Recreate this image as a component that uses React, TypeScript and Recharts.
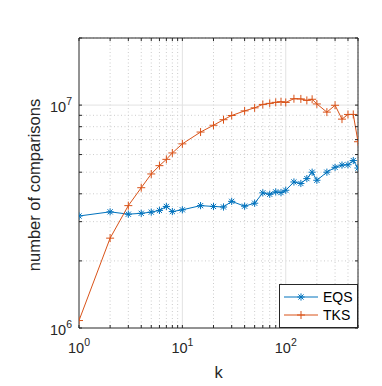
import { CartesianGrid, Legend, Line, LineChart, ReferenceArea, XAxis, YAxis } from 'recharts';

// k values (x axis, log scale)
const kValues = [
  1, 2, 3, 4, 5, 6, 7, 8, 10, 15, 20, 25, 30, 40, 50, 60, 70, 80, 90, 100, 120, 140, 160, 180, 200, 250, 300, 350,
  400, 450, 500,
];

// number of comparisons per method
const eqsValues = [
  3.18e6, 3.32e6, 3.24e6, 3.27e6, 3.31e6, 3.37e6, 3.51e6, 3.33e6, 3.39e6, 3.54e6, 3.51e6, 3.49e6, 3.7e6, 3.52e6,
  3.63e6, 4.04e6, 3.98e6, 4.08e6, 4.05e6, 4.15e6, 4.52e6, 4.45e6, 4.68e6, 5.0e6, 4.6e6, 5.0e6, 5.26e6, 5.38e6,
  5.4e6, 5.64e6, 5.22e6,
];
const tksValues = [
  1.08e6, 2.53e6, 3.54e6, 4.26e6, 4.91e6, 5.35e6, 5.71e6, 6.1e6, 6.7e6, 7.57e6, 8.12e6, 8.6e6, 8.98e6, 9.42e6,
  9.72e6, 1.007e7, 1.018e7, 1.029e7, 1.035e7, 1.028e7, 1.068e7, 1.066e7, 1.05e7, 1.062e7, 1.012e7, 9.3e6, 9.98e6,
  8.65e6, 9.08e6, 9.08e6, 6.85e6,
];

const seriesNames = ['EQS', 'TKS'];

const xDomain = [1, 500];
const yDomain = [1e6, 2e7];
const xMajor = [1, 10, 100];
const xMinor = [2, 3, 4, 5, 6, 7, 8, 9, 20, 30, 40, 50, 60, 70, 80, 90, 200, 300, 400, 500];
const yMajor = [1e6, 1e7];
const yMinor = [2e6, 3e6, 4e6, 5e6, 6e6, 7e6, 8e6, 9e6, 2e7];

const rows = kValues.map((k, i) => ({ k, eqs: eqsValues[i], tks: tksValues[i] }));

const W = 382;
const H = 386;
const PL = 79;
const PR = 358;
const PT = 38;
const PB = 328;
const FONT = '"Liberation Sans", Arial, Helvetica, sans-serif';
const INK = '#262626';
const BLUE = '#0072BD';
const ORANGE = '#D95319';
const TICK = 3;

function XTick(props: any) {
  const { x, payload } = props;
  const v = payload.value as number;
  const major = xMajor.includes(v);
  return (
    <g>
      <line x1={x} x2={x} y1={PB} y2={PB - TICK} stroke={INK} />
      <line x1={x} x2={x} y1={PT} y2={PT + TICK} stroke={INK} />
      {major && (
        <text x={x} y={PB + 25} textAnchor="middle" fontFamily={FONT} fontSize={14.5} fill={INK}>
          10
          <tspan dy={-7} fontSize={10.5}>
            {Math.round(Math.log10(v))}
          </tspan>
        </text>
      )}
    </g>
  );
}

function YTick(props: any) {
  const { y, payload } = props;
  const v = payload.value as number;
  const major = yMajor.includes(v);
  return (
    <g>
      <line x1={PL} x2={PL + TICK} y1={y} y2={y} stroke={INK} />
      <line x1={PR} x2={PR - TICK} y1={y} y2={y} stroke={INK} />
      {major && (
        <text x={PL - 7} y={y + 7} textAnchor="end" fontFamily={FONT} fontSize={14.5} fill={INK}>
          10
          <tspan dy={-7} fontSize={10.5}>
            {Math.round(Math.log10(v))}
          </tspan>
        </text>
      )}
    </g>
  );
}

function Asterisk({ cx, cy, color, r = 3.6 }: { cx: number; cy: number; color: string; r?: number }) {
  const d = r * 0.72;
  return (
    <g stroke={color} strokeWidth={1} fill="none">
      <line x1={cx - r} x2={cx + r} y1={cy} y2={cy} />
      <line x1={cx} x2={cx} y1={cy - r} y2={cy + r} />
      <line x1={cx - d} x2={cx + d} y1={cy - d} y2={cy + d} />
      <line x1={cx - d} x2={cx + d} y1={cy + d} y2={cy - d} />
    </g>
  );
}

function Plus({ cx, cy, color, r = 4 }: { cx: number; cy: number; color: string; r?: number }) {
  return (
    <g stroke={color} strokeWidth={1} fill="none">
      <line x1={cx - r} x2={cx + r} y1={cy} y2={cy} />
      <line x1={cx} x2={cx} y1={cy - r} y2={cy + r} />
    </g>
  );
}

function LegendBox() {
  const colors = [BLUE, ORANGE];
  return (
    <svg width={79} height={44} style={{ display: 'block' }}>
      <rect x={0.5} y={0.5} width={78} height={43} fill="#fff" stroke={INK} />
      {seriesNames.map((name, i) => {
        const cy = 13 + i * 18;
        return (
          <g key={name}>
            <line x1={5} x2={39} y1={cy} y2={cy} stroke={colors[i]} strokeWidth={1} />
            {i === 0 ? <Asterisk cx={22} cy={cy} color={colors[i]} /> : <Plus cx={22} cy={cy} color={colors[i]} />}
            <text x={44} y={cy + 5} fontFamily={FONT} fontSize={14} fill="#000">
              {name}
            </text>
          </g>
        );
      })}
    </svg>
  );
}

const XTitle = () => (
  <text x={(PL + PR) / 2} y={378} textAnchor="middle" fontFamily={FONT} fontSize={16.5} fill={INK}>
    k
  </text>
);

const YTitle = () => (
  <text
    x={34}
    y={(PT + PB) / 2 + 2}
    transform={`rotate(-90 34 ${(PT + PB) / 2 + 2})`}
    textAnchor="middle"
    dominantBaseline="central"
    fontFamily={FONT}
    fontSize={16.5}
    fill={INK}
  >
    number of comparisons
  </text>
);

export default function App() {
  return (
    <div style={{ position: 'absolute', left: 0, top: 0, width: W, height: H, background: '#fff' }}>
      <LineChart width={W} height={H} data={rows} margin={{ top: PT, right: W - PR, bottom: 0, left: 0 }}>
        <CartesianGrid verticalValues={xMinor} horizontalValues={yMinor} stroke="#cccccc" strokeDasharray="1 2.5" />
        <CartesianGrid verticalValues={[10, 100]} horizontalValues={[1e7]} stroke="#e2e2e2" />
        <XAxis
          dataKey="k"
          type="number"
          scale="log"
          domain={xDomain}
          allowDataOverflow
          ticks={[...xMajor, ...xMinor]}
          interval={0}
          height={H - PB}
          axisLine={false}
          tickLine={false}
          tick={<XTick />}
          label={() => <XTitle />}
        />
        <YAxis
          type="number"
          scale="log"
          domain={yDomain}
          allowDataOverflow
          ticks={[...yMajor, ...yMinor]}
          interval={0}
          width={PL}
          axisLine={false}
          tickLine={false}
          tick={<YTick />}
          label={() => <YTitle />}
        />
        <ReferenceArea x1={xDomain[0]} x2={xDomain[1]} y1={yDomain[0]} y2={yDomain[1]} fill="none" stroke={INK} />
        <Line
          type="linear"
          dataKey="eqs"
          name={seriesNames[0]}
          stroke={BLUE}
          strokeWidth={1}
          dot={(p: any) => <Asterisk key={`e${p.index}`} cx={p.cx} cy={p.cy} color={BLUE} />}
          activeDot={false}
          isAnimationActive={false}
        />
        <Line
          type="linear"
          dataKey="tks"
          name={seriesNames[1]}
          stroke={ORANGE}
          strokeWidth={1}
          dot={(p: any) => <Plus key={`t${p.index}`} cx={p.cx} cy={p.cy} color={ORANGE} />}
          activeDot={false}
          isAnimationActive={false}
        />
        <Legend
          layout="vertical"
          align="center"
          verticalAlign="middle"
          wrapperStyle={{ left: 279, top: 284, width: 79, height: 44, margin: 0, padding: 0 }}
          content={() => <LegendBox />}
        />
      </LineChart>
    </div>
  );
}
